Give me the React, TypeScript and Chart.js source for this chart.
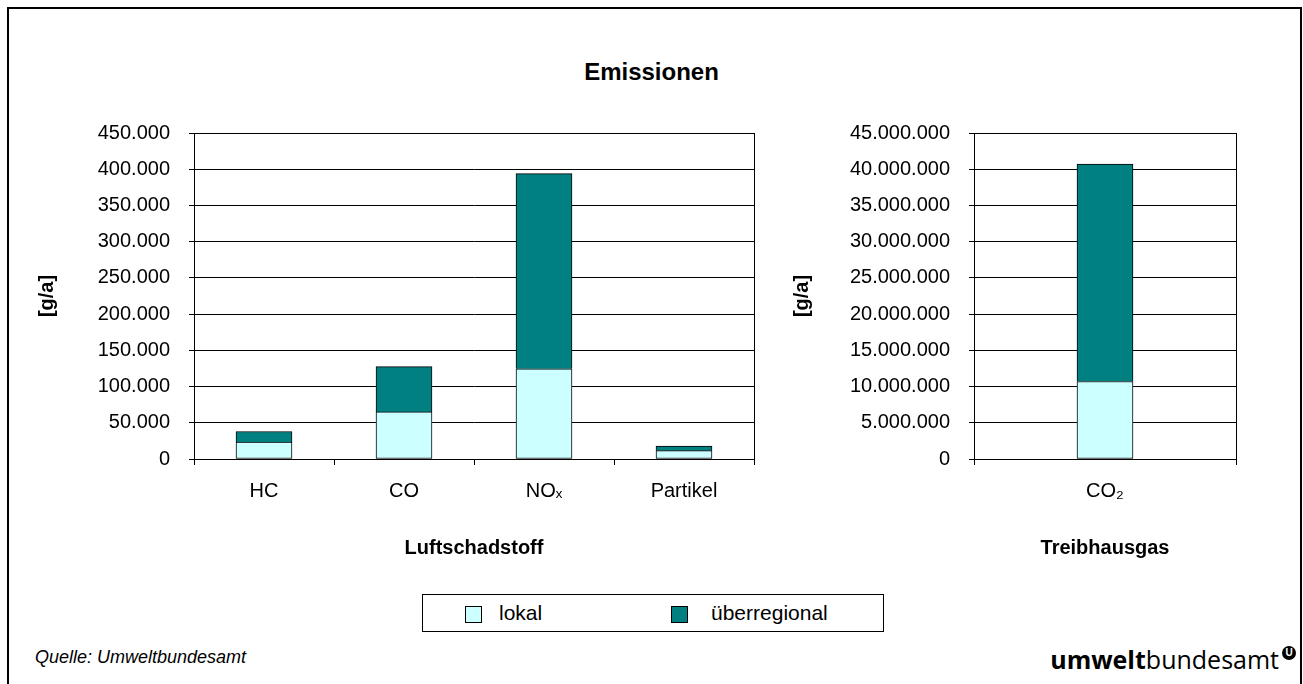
import React, { useEffect, useRef } from "react";
import { Chart, registerables } from "chart.js";

Chart.register(...registerables);

// ---- data ----
const pollutantCategories = ["HC", "CO", "NOₓ", "Partikel"];
const pollutantLokal = [23500, 65000, 124500, 11500];
const pollutantUeberregional = [14500, 62500, 269500, 6500];

const ghgCategories = ["CO₂"];
const ghgLokal = [10700000];
const ghgUeberregional = [30000000];

const seriesNames = ["lokal", "überregional"];
const seriesColors = ["#CCFFFF", "#008080"];

const pollutantAxis = [0, 450000, 50000]; // min, max, step
const ghgAxis = [0, 45000000, 5000000];

const FONT = "'Liberation Sans', Arial, sans-serif";

const fmt = (v: number | string) =>
  String(Math.round(Number(v))).replace(/\B(?=(\d{3})+(?!\d))/g, ".");

const frame = {
  id: "frame",
  afterDraw(chart: any) {
    const { ctx, chartArea: a } = chart;
    ctx.save();
    ctx.strokeStyle = "#000";
    ctx.lineWidth = 1;
    ctx.strokeRect(
      Math.round(a.left) + 0.5,
      Math.round(a.top) + 0.5,
      Math.round(a.right) - Math.round(a.left),
      Math.round(a.bottom) - Math.round(a.top)
    );
    ctx.restore();
  },
};

type PanelProps = {
  left: number;
  top: number;
  width: number;
  height: number;
  categories: string[];
  lokal: number[];
  ueber: number[];
  axis: number[];
  yWidth: number;
  xHeight: number;
  xTitle: string;
};

function BarPanel(p: PanelProps) {
  const ref = useRef<HTMLCanvasElement>(null);
  useEffect(() => {
    const tickFont = { family: FONT, size: 20 };
    const titleFont = { family: FONT, size: 20, weight: "bold" as const };
    const chart = new Chart(ref.current!, {
      type: "bar",
      data: {
        labels: p.categories,
        datasets: [
          {
            label: seriesNames[0],
            data: p.lokal,
            backgroundColor: seriesColors[0],
            borderColor: "#000",
            borderWidth: 1,
            borderSkipped: false,
            barThickness: 56,
          },
          {
            label: seriesNames[1],
            data: p.ueber,
            backgroundColor: seriesColors[1],
            borderColor: "#000",
            borderWidth: 1,
            borderSkipped: "start",
            barThickness: 56,
          },
        ],
      },
      options: {
        responsive: false,
        maintainAspectRatio: false,
        animation: false,
        layout: { padding: { top: 12, right: 6, left: 0, bottom: 0 } },
        plugins: {
          legend: { display: false },
          tooltip: { enabled: false },
          title: { display: false },
        },
        scales: {
          x: {
            stacked: true,
            grid: {
              drawOnChartArea: false,
              offset: true,
              color: "#000",
              tickLength: 6,
            },
            border: { color: "#000" },
            ticks: { color: "#000", font: tickFont, padding: 14, maxRotation: 0 },
            title: {
              display: true,
              text: p.xTitle,
              color: "#000",
              font: titleFont,
              padding: { top: 0, bottom: 10 },
            },
            afterFit: (s: any) => {
              s.height = p.xHeight;
            },
          },
          y: {
            stacked: true,
            min: p.axis[0],
            max: p.axis[1],
            ticks: {
              stepSize: p.axis[2],
              callback: (v: any) => fmt(v),
              color: "#000",
              font: tickFont,
              padding: 19,
            },
            grid: { color: "#000", tickLength: 5 },
            border: { color: "#000" },
            title: {
              display: true,
              text: "[g/a]",
              color: "#000",
              font: titleFont,
              padding: { top: 15, bottom: 0 },
            },
            afterFit: (s: any) => {
              s.width = p.yWidth;
            },
          },
        },
      },
      plugins: [frame],
    });
    return () => chart.destroy();
  }, []);
  return (
    <canvas
      ref={ref}
      width={p.width}
      height={p.height}
      style={{ position: "absolute", left: p.left, top: p.top, width: p.width, height: p.height }}
    />
  );
}

export default function App() {
  return (
    <div
      style={{
        position: "absolute",
        left: 0,
        top: 0,
        width: 1303,
        height: 684,
        overflow: "hidden",
        background: "#fff",
        fontFamily: FONT,
        color: "#000",
      }}
    >
      <div
        style={{
          position: "absolute",
          left: 7,
          top: 7,
          width: 1295,
          height: 720,
          border: "2px solid #000",
          boxSizing: "border-box",
        }}
      />
      <div
        style={{
          position: "absolute",
          left: 0,
          top: 58,
          width: 1303,
          textAlign: "center",
          fontWeight: "bold",
          fontSize: 24,
          lineHeight: "28px",
        }}
      >
        Emissionen
      </div>

      <BarPanel
        left={20}
        top={102}
        width={740}
        height={468}
        categories={pollutantCategories}
        lokal={pollutantLokal}
        ueber={pollutantUeberregional}
        axis={pollutantAxis}
        yWidth={174}
        xHeight={111}
        xTitle="Luftschadstoff"
      />
      <BarPanel
        left={775}
        top={102}
        width={467}
        height={468}
        categories={ghgCategories}
        lokal={ghgLokal}
        ueber={ghgUeberregional}
        axis={ghgAxis}
        yWidth={199}
        xHeight={111}
        xTitle="Treibhausgas"
      />

      {/* legend */}
      <div
        style={{
          position: "absolute",
          left: 422,
          top: 594,
          width: 462,
          height: 38,
          border: "1px solid #000",
          boxSizing: "border-box",
          fontSize: 21,
        }}
      >
        {seriesNames.map((name, i) => (
          <React.Fragment key={name}>
            <div
              style={{
                position: "absolute",
                left: i === 0 ? 42 : 248,
                top: 11,
                width: 17,
                height: 17,
                background: seriesColors[i],
                border: "1px solid #000",
                boxSizing: "border-box",
              }}
            />
            <div
              style={{
                position: "absolute",
                left: i === 0 ? 76 : 288,
                top: 6,
                lineHeight: "24px",
                whiteSpace: "nowrap",
              }}
            >
              {name}
            </div>
          </React.Fragment>
        ))}
      </div>

      <div
        style={{
          position: "absolute",
          left: 35,
          top: 646,
          fontStyle: "italic",
          fontSize: 18,
          lineHeight: "22px",
          whiteSpace: "nowrap",
        }}
      >
        Quelle: Umweltbundesamt
      </div>

      <div
        style={{
          position: "absolute",
          right: 24,
          top: 643,
          fontFamily: "'Open Sans', sans-serif",
          fontSize: 25,
          lineHeight: "32px",
          whiteSpace: "nowrap",
        }}
      >
        <span style={{ fontWeight: 700 }}>umwelt</span>
        <span style={{ fontWeight: 400 }}>bundesamt</span>
      </div>
      <div
        style={{
          position: "absolute",
          left: 1282,
          top: 646,
          width: 14,
          height: 14,
          borderRadius: 7,
          background: "#000",
          color: "#fff",
          fontSize: 10,
          fontWeight: "bold",
          lineHeight: "14px",
          textAlign: "center",
          fontFamily: FONT,
        }}
      >
        U
      </div>
    </div>
  );
}
